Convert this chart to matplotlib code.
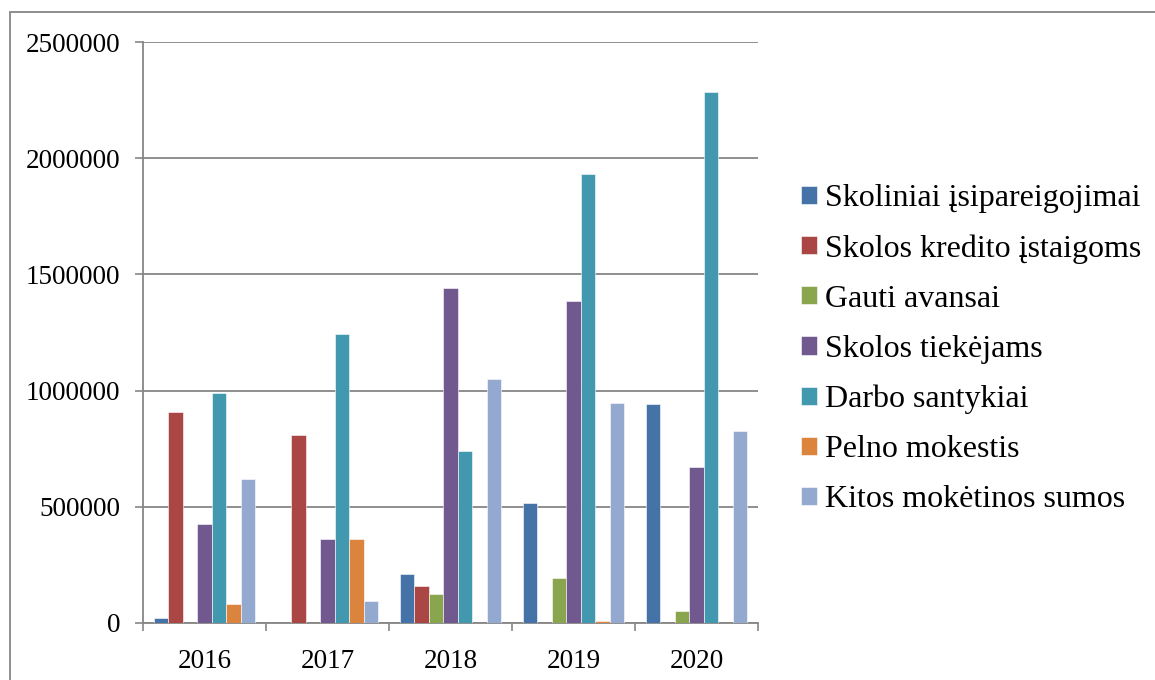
import matplotlib
matplotlib.use("Agg")
import matplotlib.pyplot as plt
from matplotlib.patches import Rectangle
import numpy as np

plt.rcParams["font.family"] = ["Liberation Serif", "DejaVu Serif"]

years = ["2016", "2017", "2018", "2019", "2020"]
series_names = [
    "Skoliniai įsipareigojimai",
    "Skolos kredito įstaigoms",
    "Gauti avansai",
    "Skolos tiekėjams",
    "Darbo santykiai",
    "Pelno mokestis",
    "Kitos mokėtinos sumos",
]
skoliniai = [22000, 0, 210000, 515000, 941000]
kredito = [910000, 811000, 161000, 0, 0]
avansai = [0, 0, 124000, 193000, 50000]
tiekejams = [426000, 363000, 1440000, 1384000, 672000]
darbo = [988000, 1245000, 739000, 1934000, 2284000]
pelno = [81000, 361000, 0, 8000, 0]
kitos = [621000, 96000, 1050000, 948000, 827000]
colors = ["#4572A7", "#AA4643", "#89A54E", "#71588F", "#4198AF", "#DB843D", "#93A9CF"]

values = [skoliniai, kredito, avansai, tiekejams, darbo, pelno, kitos]

W, H = 1155, 680
fig = plt.figure(figsize=(W / 100, H / 100), dpi=100)
ax = fig.add_axes([143 / W, 1 - 623 / H, (758 - 143) / W, (623 - 42) / H])

grey = "#868686"
n = len(values)
bw = 1 / 8.5
x = np.arange(len(years))
for i, (vals, c, name) in enumerate(zip(values, colors, series_names)):
    offs = (i - (n - 1) / 2) * bw
    ax.bar(x + offs, vals, width=bw, color=c, edgecolor="white", linewidth=0.4,
           label=name, zorder=3)

ax.set_xlim(-0.5, len(years) - 0.5)
ax.set_ylim(0, 2500000)
ax.set_yticks(np.arange(0, 2500001, 500000))
ax.set_yticklabels([str(v) for v in range(0, 2500001, 500000)])
ax.yaxis.grid(True, color=grey, linewidth=1.3, zorder=0)
ax.set_axisbelow(True)

ax.set_xticks(np.arange(-0.5, len(years)), labels=[""] * (len(years) + 1))
ax.set_xticks(x, labels=years, minor=True)
ax.tick_params(axis="x", which="major", length=6, width=1.2, color=grey, direction="out")
ax.tick_params(axis="x", which="minor", length=0, pad=19, labelsize=19.5)
ax.tick_params(axis="y", length=6, width=1.2, color=grey, direction="out", pad=10.5, labelsize=19.5)

for s in ["top", "right"]:
    ax.spines[s].set_visible(False)
for s in ["left", "bottom"]:
    ax.spines[s].set_color(grey)
    ax.spines[s].set_linewidth(1.3)

leg = ax.legend(loc="upper left", bbox_to_anchor=(801 / W, 1 - 184 / H),
                bbox_transform=fig.transFigure, frameon=False, fontsize=23,
                borderpad=0, borderaxespad=0,
                handlelength=0.5, handleheight=0.5, handletextpad=0.25,
                labelspacing=0.66)

# outer frame
fig.add_artist(Rectangle((10 / W, -0.2), 1.2, 1.2 - 12 / H, transform=fig.transFigure,
                         fill=False, edgecolor=grey, linewidth=1.3, clip_on=False))

fig.savefig("out.png", dpi=100)
